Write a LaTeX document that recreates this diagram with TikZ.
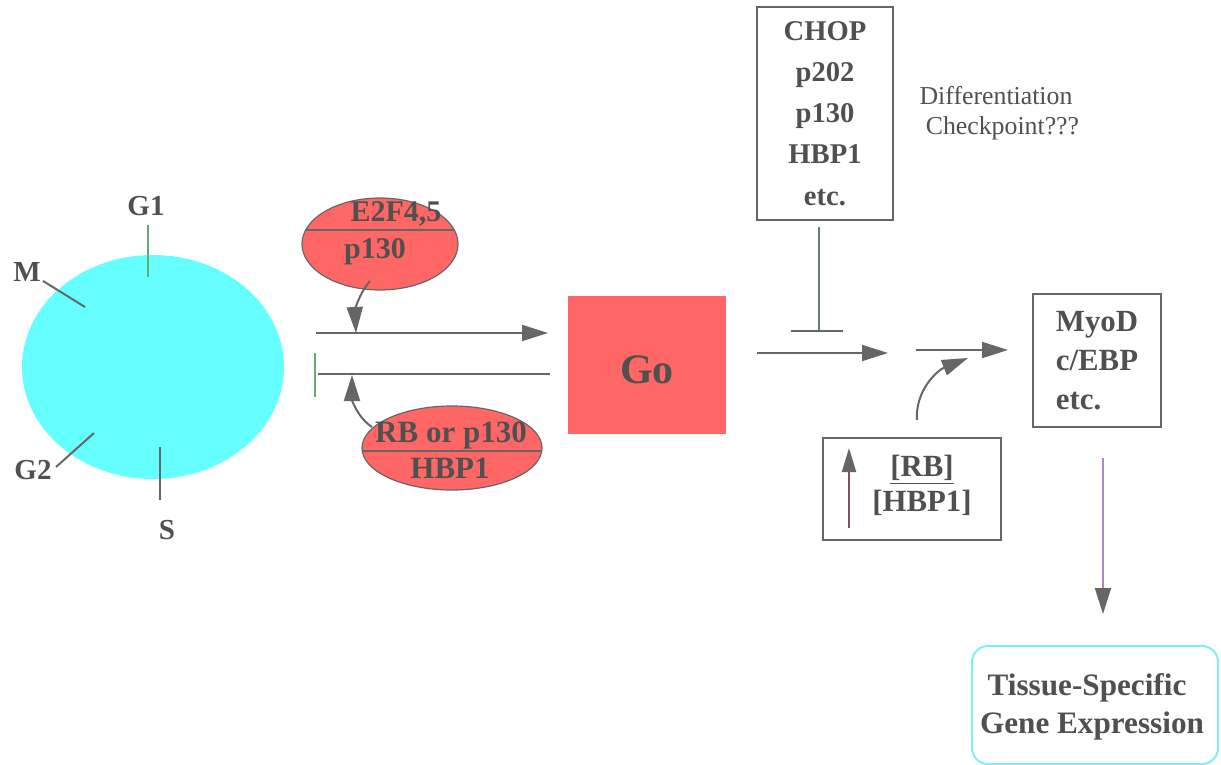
\documentclass[tikz,border=0pt]{standalone}
\usepackage{fontspec}
\setmainfont{Liberation Serif}
\usetikzlibrary{shapes.geometric,arrows.meta}
\definecolor{txt}{HTML}{505050}
\definecolor{ln}{HTML}{666666}
\definecolor{cellc}{HTML}{66FFFF}
\definecolor{redc}{HTML}{FF6666}
\definecolor{grn}{HTML}{66AA77}
\definecolor{purp}{HTML}{B088C8}
\definecolor{tiss}{HTML}{80EEF4}
\tikzset{
  lbl/.style={text=txt,font=\fontsize{14.5}{17}\selectfont\bfseries,inner sep=0pt},
  con/.style={draw=ln,line width=1pt},
  arr/.style={con,-{Triangle[length=13pt,width=8pt]}},
  box/.style={draw=ln,line width=0.8pt,text=txt,font=\fontsize{14.5}{17}\selectfont\bfseries},
  redell/.style={ellipse,draw=ln,line width=0.6pt,fill=redc,inner sep=0pt}
}
\begin{document}
\begin{tikzpicture}[x=0.5pt,y=-0.5pt]
\useasboundingbox (0,0) rectangle (1221,765);
% cell cycle
\node[ellipse,fill=cellc,minimum width=131pt,minimum height=112pt,inner sep=0pt] (cell) at (153,367) {};
\node[lbl] (g1) at (146,206) {G1};
\node[lbl] (m) at (27,272) {M};
\node[lbl] (g2) at (33,470) {G2};
\node[lbl] (s) at (167,530) {S};
\coordinate (g1s) at (148,225);
\coordinate (g1e) at (148,277);
\coordinate (ms) at (43,281);
\coordinate (me) at (85,307);
\coordinate (g2s) at (56,467);
\coordinate (g2e) at (94,433);
\coordinate (se) at (160,447);
\coordinate (sb) at (160,500);
\draw[draw=grn,line width=1pt] (g1s) -- (g1e);
\draw[con] (ms) -- (me);
\draw[con] (g2s) -- (g2e);
\draw[con] (se) -- (sb);
% E2F ellipse
\node[redell,minimum width=78pt,minimum height=46pt] (e2f) at (380,244) {};
\begin{scope}
\clip (380,244) ellipse [x radius=78,y radius=46];
\draw[con] (300,230) -- (460,230);
\end{scope}
\node[lbl,font=\fontsize{15}{17}\selectfont\bfseries] (e2ft) at (396,214) {E2F4,5};
\node[lbl,font=\fontsize{15}{17}\selectfont\bfseries] (p130a) at (375,252) {p130};
% RB ellipse
\node[redell,minimum width=90pt,minimum height=42pt] (rbe) at (452,448) {};
\begin{scope}
\clip (452,448) ellipse [x radius=90,y radius=42];
\draw[con] (360,451) -- (545,451);
\end{scope}
\node[lbl,font=\fontsize{15.5}{17}\selectfont\bfseries] (rbt) at (451,435) {RB or p130};
\node[lbl,font=\fontsize{15.5}{17}\selectfont\bfseries] (hbpa) at (450,468) {HBP1};
% Go
\node[fill=redc,minimum width=79pt,minimum height=69pt,inner sep=0pt] (go) at (647,365) {};
\node[text=txt,font=\fontsize{21}{24}\selectfont\bfseries,inner sep=0pt] (got) at (647,370) {Go};
\coordinate (t1) at (316,333);
\coordinate (t2) at (548,333);
\coordinate (b1) at (318,374);
\coordinate (b2) at (550,374);
\draw[arr] (t1) -- (t2);
\draw[con] (b1) -- (b2);
\coordinate (bt) at (315,353);
\coordinate (bb) at (315,397);
\draw[draw=grn,line width=1pt] (bt) -- (bb);
\coordinate (ea) at (370,281);
\coordinate (eb) at (356,333);
\draw[arr] (ea) .. controls (358,295) and (355,312) .. (eb);
\coordinate (ra) at (372,427);
\coordinate (rb) at (352,375);
\draw[arr] (ra) .. controls (358,418) and (352,400) .. (rb);
% CHOP box
\node[box,minimum width=68pt,minimum height=106.5pt,align=center,font=\fontsize{14.3}{20.6}\selectfont\bfseries] (chop) at (825,113.5) {CHOP\\p202\\p130\\HBP1\\etc.};
\node[text=txt,font=\fontsize{12.9}{15}\selectfont,align=center,inner sep=0pt] (diff) at (996,113) {Differentiation\\\ \ Checkpoint???};
\coordinate (cs) at (819,227);
\coordinate (bar) at (819,331);
\coordinate (barl) at (791,331);
\coordinate (barr) at (843,331);
\draw[draw=ln!60!grn,line width=1pt] (cs) -- (bar);
\draw[con] (barl) -- (barr);
\coordinate (a1s) at (757,353);
\coordinate (a1e) at (888,353);
\draw[arr] (a1s) -- (a1e);
% MyoD box
\node[box,minimum width=64pt,minimum height=66.5pt,align=left,font=\fontsize{15.4}{19.5}\selectfont\bfseries] (myod) at (1097,360.5) {MyoD\\c/EBP\\etc.};
\coordinate (a2s) at (916,350);
\coordinate (a2e) at (1008,350);
\draw[arr] (a2s) -- (a2e);
% RB box
\node[box,minimum width=89pt,minimum height=51pt] (rbbox) at (912,489) {};
\node[lbl,align=center,font=\fontsize{15.4}{17.5}\selectfont\bfseries] (rbtxt) at (922,485) {\underline{[RB]}\\{[HBP1]}};
\coordinate (us) at (849,528);
\coordinate (ue) at (849,448);
\draw[line width=1pt,draw=ln!85!red,-{Triangle[length=12pt,width=7pt,color=ln]}] (us) -- (ue);
\coordinate (ca) at (917,420);
\coordinate (cb) at (968,358);
\draw[arr] (ca) .. controls (915,390) and (938,370) .. (cb);
% Tissue
\node[draw=tiss,line width=1pt,rounded corners=8pt,minimum width=123pt,minimum height=59pt] (tis) at (1095,705) {};
\node[text=txt,font=\fontsize{15.6}{18.5}\selectfont\bfseries,inner sep=0pt] (tis1) at (1087,688) {Tissue-Specific};
\node[text=txt,font=\fontsize{15.6}{18.5}\selectfont\bfseries,inner sep=0pt] (tis2) at (1092,726) {Gene Expression};
\coordinate (ms2) at (1103,458);
\coordinate (te) at (1103,614);
\draw[draw=purp,line width=1pt,-{Triangle[length=13pt,width=8pt,color=ln]}] (ms2) -- (te);
\end{tikzpicture}
\end{document}
